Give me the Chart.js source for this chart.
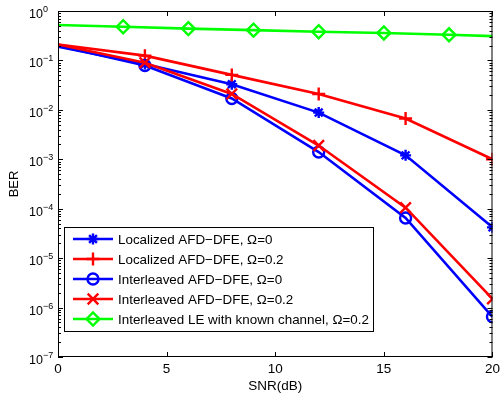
<!DOCTYPE html>
<html>
<head>
<meta charset="utf-8">
<script src="https://cdn.jsdelivr.net/npm/chart.js@4/dist/chart.umd.min.js"></script>
<style>
  html, body { margin: 0; padding: 0; background: #fff; }
  #wrap { width: 504px; height: 396px; }
</style>
</head>
<body>
<div id="wrap"><canvas id="c" width="504" height="396"></canvas></div>
<script>
// data
const snr = [0, 4, 8, 12, 16, 20];
const locOmega0 = [0.19, 0.085, 0.033, 0.0088, 0.0012, 4.2e-5];
const locOmega02 = [0.21, 0.125, 0.051, 0.021, 0.0067, 1.0e-3];
const intOmega0 = [0.2, 0.079, 0.017, 0.0014, 6.5e-5, 6.5e-7];
const intOmega02 = [0.21, 0.09, 0.021, 0.0019, 1.05e-4, 1.5e-6];
const snrLE = [0, 3, 6, 9, 12, 15, 18, 20];
const leKnown = [0.52, 0.48, 0.44, 0.41, 0.38, 0.36, 0.33, 0.31];
const legendLabels = [
  "Localized AFD\u2212DFE, \u03A9=0",
  "Localized AFD\u2212DFE, \u03A9=0.2",
  "Interleaved AFD\u2212DFE, \u03A9=0",
  "Interleaved AFD\u2212DFE, \u03A9=0.2",
  "Interleaved LE with known channel, \u03A9=0.2"
];
const xTicks = [0, 5, 10, 15, 20];
const yExponents = [0, -1, -2, -3, -4, -5, -6, -7];

const FONT = "'Liberation Sans', Arial, Helvetica, sans-serif";

function pts(xs, ys) {
  return xs.map((x, i) => ({ x: x, y: ys[i] }));
}

// no marker on the first point (and the last one of the LE curve)
function radii(xs, r, hideLast) {
  return xs.map((x, i) => (i === 0 || (hideLast && i === xs.length - 1)) ? 0 : r);
}

const series = [
  { data: pts(snr, locOmega0), color: "#0000ff", style: "star", radius: 5.5, radii: radii(snr, 5.5) },
  { data: pts(snr, locOmega02), color: "#ff0000", style: "cross", radius: 6.5, radii: radii(snr, 6.5) },
  { data: pts(snr, intOmega0), color: "#0000ff", style: "circle", radius: 5.5, radii: radii(snr, 5.5) },
  { data: pts(snr, intOmega02), color: "#ff0000", style: "crossRot", radius: 7.5, radii: radii(snr, 7.5) },
  { data: pts(snrLE, leKnown), color: "#00ff00", style: "rectRot", radius: 6.5, radii: radii(snrLE, 6.5, true) }
];

const datasets = series.map((s, i) => ({
  label: legendLabels[i],
  data: s.data,
  borderColor: s.color,
  backgroundColor: "rgba(0,0,0,0)",
  borderWidth: 2.6,
  pointStyle: s.style,
  pointRadius: s.radii,
  pointBorderColor: s.color,
  pointBackgroundColor: "rgba(0,0,0,0)",
  pointBorderWidth: 2.4,
  tension: 0,
  order: series.length - i
}));

// MATLAB-like frame, inward ticks, superscript tick labels, legend box
const matlabAxes = {
  id: "matlabAxes",
  afterDraw(chart) {
    const ctx = chart.ctx;
    const a = chart.chartArea;
    const xs = chart.scales.x;
    const ys = chart.scales.y;
    ctx.save();
    ctx.strokeStyle = "#000";
    ctx.lineWidth = 1;
    ctx.strokeRect(a.left + 0.5, a.top + 0.5, a.right - a.left - 1, a.bottom - a.top - 1);

    // x ticks (bottom & top)
    ctx.beginPath();
    xTicks.forEach(v => {
      const px = Math.round(xs.getPixelForValue(v)) + 0.5;
      ctx.moveTo(px, a.bottom); ctx.lineTo(px, a.bottom - 5);
      ctx.moveTo(px, a.top); ctx.lineTo(px, a.top + 5);
    });
    // y ticks, major and minor (left & right)
    yExponents.forEach(e => {
      for (let k = 1; k <= 9; k++) {
        const v = k * Math.pow(10, e);
        if (v > 1.0001 || v < 1e-7 * 0.999) continue;
        const py = Math.round(ys.getPixelForValue(v)) + 0.5;
        const len = k === 1 ? 5 : 3;
        ctx.moveTo(a.left, py); ctx.lineTo(a.left + len, py);
        ctx.moveTo(a.right, py); ctx.lineTo(a.right - len, py);
      }
    });
    ctx.stroke();

    // y tick labels 10^n
    ctx.fillStyle = "#000";
    yExponents.forEach(e => {
      const py = ys.getPixelForValue(Math.pow(10, e));
      ctx.font = "12.5px " + FONT;
      ctx.textAlign = "right";
      ctx.textBaseline = "alphabetic";
      ctx.fillText("10", a.left - 15, py + 7);
      ctx.font = "9px " + FONT;
      ctx.textAlign = "left";
      ctx.fillText(e === 0 ? "0" : "\u2212" + (-e), a.left - 15, py + 1);
    });

    // legend
    const bx = a.left + 6, by = a.bottom - 130, bw = 309, bh = 104;
    ctx.fillStyle = "#fff";
    ctx.fillRect(bx, by, bw, bh);
    ctx.strokeStyle = "#000";
    ctx.lineWidth = 1;
    ctx.strokeRect(bx + 0.5, by + 0.5, bw, bh);
    series.forEach((s, i) => {
      const ry = by + 12 + i * 20;
      ctx.strokeStyle = s.color;
      ctx.lineWidth = 2.6;
      ctx.beginPath();
      ctx.moveTo(bx + 9, ry); ctx.lineTo(bx + 49, ry);
      ctx.stroke();
      ctx.lineWidth = 2.4;
      ctx.fillStyle = "rgba(0,0,0,0)";
      Chart.helpers.drawPoint(ctx, {
        pointStyle: s.style, radius: s.radius, rotation: 0, borderWidth: 2.4
      }, bx + 29, ry);
      ctx.fillStyle = "#000";
      ctx.font = "13.4px " + FONT;
      ctx.textAlign = "left";
      ctx.textBaseline = "middle";
      ctx.fillText(legendLabels[i], bx + 54, ry + 1);
    });
    ctx.restore();
  }
};

new Chart(document.getElementById("c"), {
  type: "line",
  data: { datasets: datasets },
  options: {
    responsive: false,
    animation: false,
    devicePixelRatio: 1,
    layout: { padding: { top: 11, right: 6, left: 0, bottom: 0 } },
    plugins: { legend: { display: false }, tooltip: { enabled: false } },
    scales: {
      x: {
        type: "linear",
        min: 0,
        max: 20,
        afterFit: s => { s.height = 39; },
        afterBuildTicks: s => { s.ticks = xTicks.map(v => ({ value: v })); },
        grid: { display: false, drawTicks: false },
        border: { display: false },
        ticks: { color: "#000", padding: 4, font: { family: FONT, size: 13.5 } },
        title: { display: true, text: "SNR(dB)", color: "#000",
                 padding: { top: 0, bottom: 2 }, font: { family: FONT, size: 13.5 } }
      },
      y: {
        type: "logarithmic",
        min: 1e-7,
        max: 1,
        afterFit: s => { s.width = 58; },
        grid: { display: false },
        border: { display: false },
        ticks: { display: false },
        title: { display: true, text: "BER", color: "#000",
                 padding: { top: 7, bottom: 0 }, font: { family: FONT, size: 13 } }
      }
    }
  },
  plugins: [matlabAxes]
});
</script>
</body>
</html>
